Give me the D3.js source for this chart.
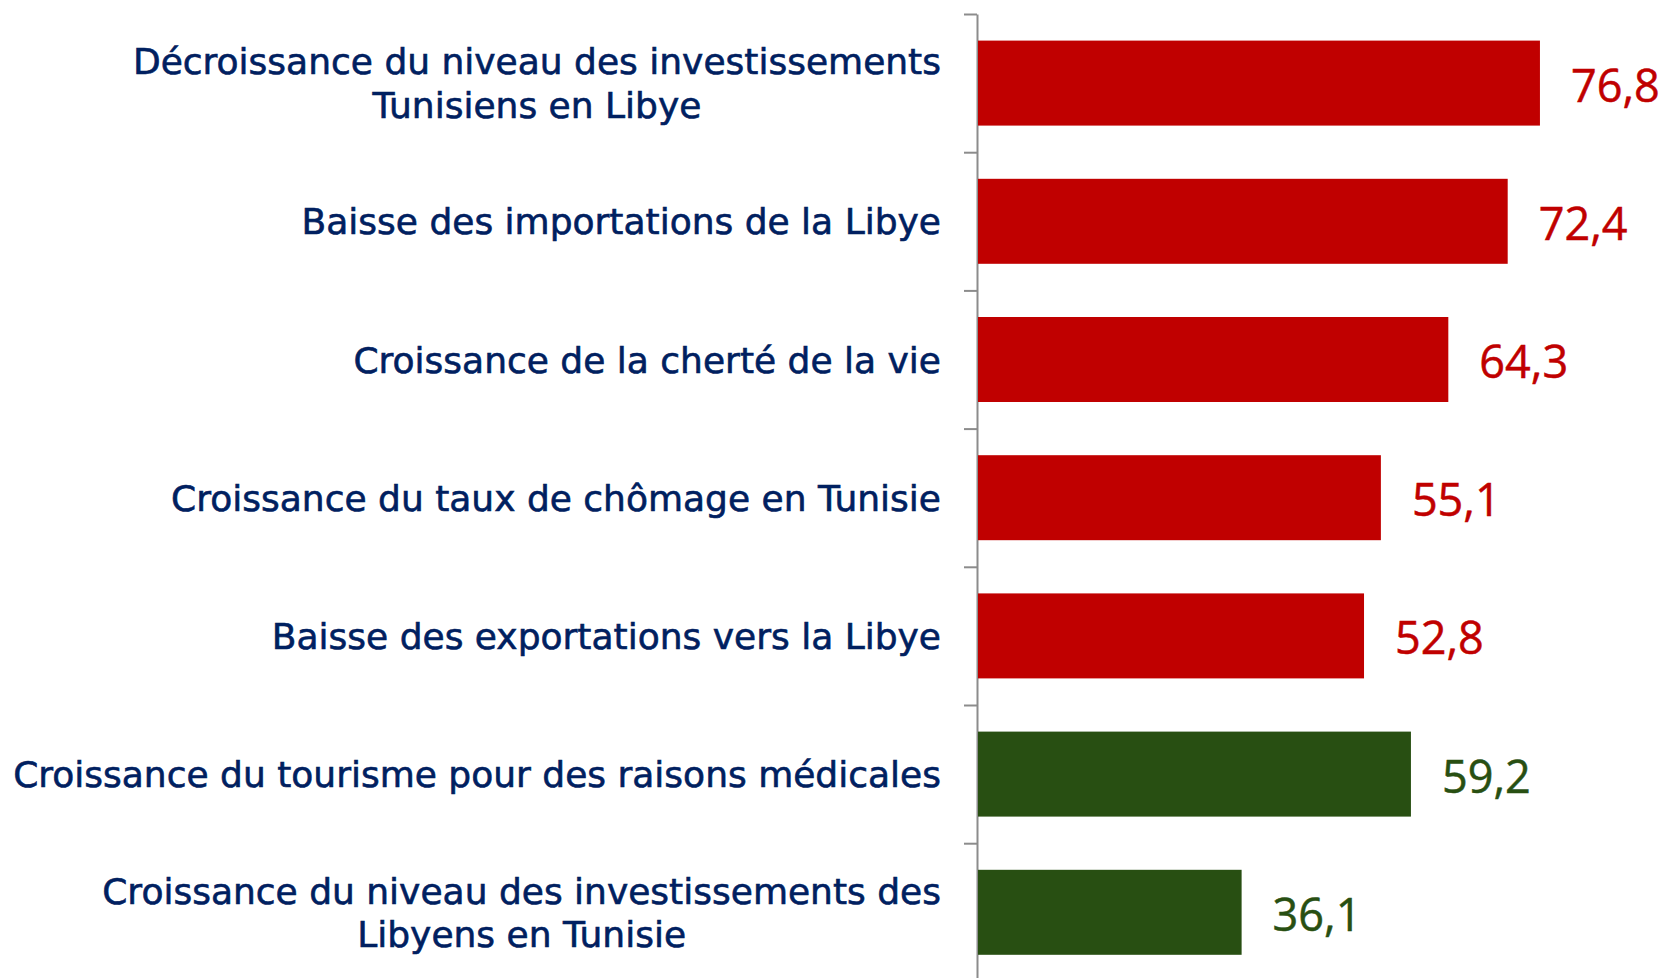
<!DOCTYPE html>
<html>
<head>
<meta charset="utf-8">
<script src="https://cdn.jsdelivr.net/npm/d3@7"></script>
<style>
  body { margin: 0; background: #fff; }
  svg { display: block; }
</style>
</head>
<body>
<script>
var categories = [
	["Décroissance du niveau des investissements", "Tunisiens en Libye"],
	["Baisse des importations de la Libye"],
	["Croissance de la cherté de la vie"],
	["Croissance du taux de chômage en Tunisie"],
	["Baisse des exportations vers la Libye"],
	["Croissance du tourisme pour des raisons médicales"],
	["Croissance du niveau des investissements des", "Libyens en Tunisie"]
];
var values = [76.8, 72.4, 64.3, 55.1, 52.8, 59.2, 36.1];
var groups = ["neg", "neg", "neg", "neg", "neg", "pos", "pos"];
var valueLabels = ["76,8", "72,4", "64,3", "55,1", "52,8", "59,2", "36,1"];

var w = 1667;
var h = 978;
var colors = {neg: "#c00000", pos: "#284f12"};

var svg = d3.select("body")
	.append("svg")
	.attr("width", w)
	.attr("height", h);

var x0 = 977;
var yTop = 14;
var step = 138.2;
var labelRight = 941;

var x = d3.scaleLinear().domain([0, 100]).range([x0, x0 + 733]);

var idx = d3.range(categories.length);
var y = d3.scaleBand()
	.domain(idx)
	.range([yTop, yTop + step * categories.length])
	.paddingInner(0.385)
	.paddingOuter(0.1925);

// axis with ticks between categories
var yEdge = d3.scaleLinear().domain([0, categories.length]).range([yTop, yTop + step * categories.length]);
var axis = svg.append("g")
	.attr("transform", "translate(" + x0 + ",0)")
	.call(d3.axisLeft(yEdge).tickValues(d3.range(categories.length + 1)).tickFormat("").tickSize(13).tickSizeOuter(0));
axis.selectAll("path, line").attr("stroke", "#8c8c8c").attr("stroke-width", 2);

svg.append("g").selectAll("rect")
	.data(idx)
	.enter()
	.append("rect")
	.attr("x", x(0) + 1)
	.attr("y", function(d){ return y(d); })
	.attr("width", function(d){ return x(values[d]) - x(0) - 1; })
	.attr("height", y.bandwidth())
	.attr("fill", function(d){ return colors[groups[d]]; });

svg.append("g").selectAll("text")
	.data(idx)
	.enter()
	.append("text")
	.attr("x", function(d){ return x(values[d]) + 31; })
	.attr("y", function(d){ return y(d) + y.bandwidth() / 2; })
	.attr("dy", "0.41em")
	.attr("font-family", "'Open Sans', 'Liberation Sans', sans-serif")
	.attr("font-size", 45)
	.attr("fill", function(d){ return colors[groups[d]]; })
	.attr("stroke", function(d){ return colors[groups[d]]; })
	.attr("stroke-width", 0.5)
	.text(function(d){ return valueLabels[d]; });

// category labels
var lineGap = 43.6;
var labels = svg.append("g")
	.attr("font-family", "'DejaVu Sans', Verdana, sans-serif")
	.attr("font-size", 36)
	.attr("fill", "#002060")
	.attr("stroke", "#002060")
	.attr("stroke-width", 0.6);

idx.forEach(function(d){
	var lines = categories[d];
	var cy = y(d) + y.bandwidth() / 2;
	var t = labels.append("text")
		.attr("y", cy)
		.attr("dy", "0.365em");
	if(lines.length == 1){
		t.attr("x", labelRight).attr("text-anchor", "end").text(lines[0]);
	}
	else{
		t.attr("text-anchor", "middle");
		var spans = [];
		lines.forEach(function(l, i){
			var s = t.append("tspan")
				.attr("y", cy + (i - (lines.length - 1) / 2) * lineGap)
				.attr("dy", "0.365em")
				.text(l);
			spans.push(s);
		});
		var maxW = d3.max(spans, function(s){ return s.node().getComputedTextLength(); });
		spans.forEach(function(s){ s.attr("x", labelRight - maxW / 2); });
	}
});
</script>
</body>
</html>
